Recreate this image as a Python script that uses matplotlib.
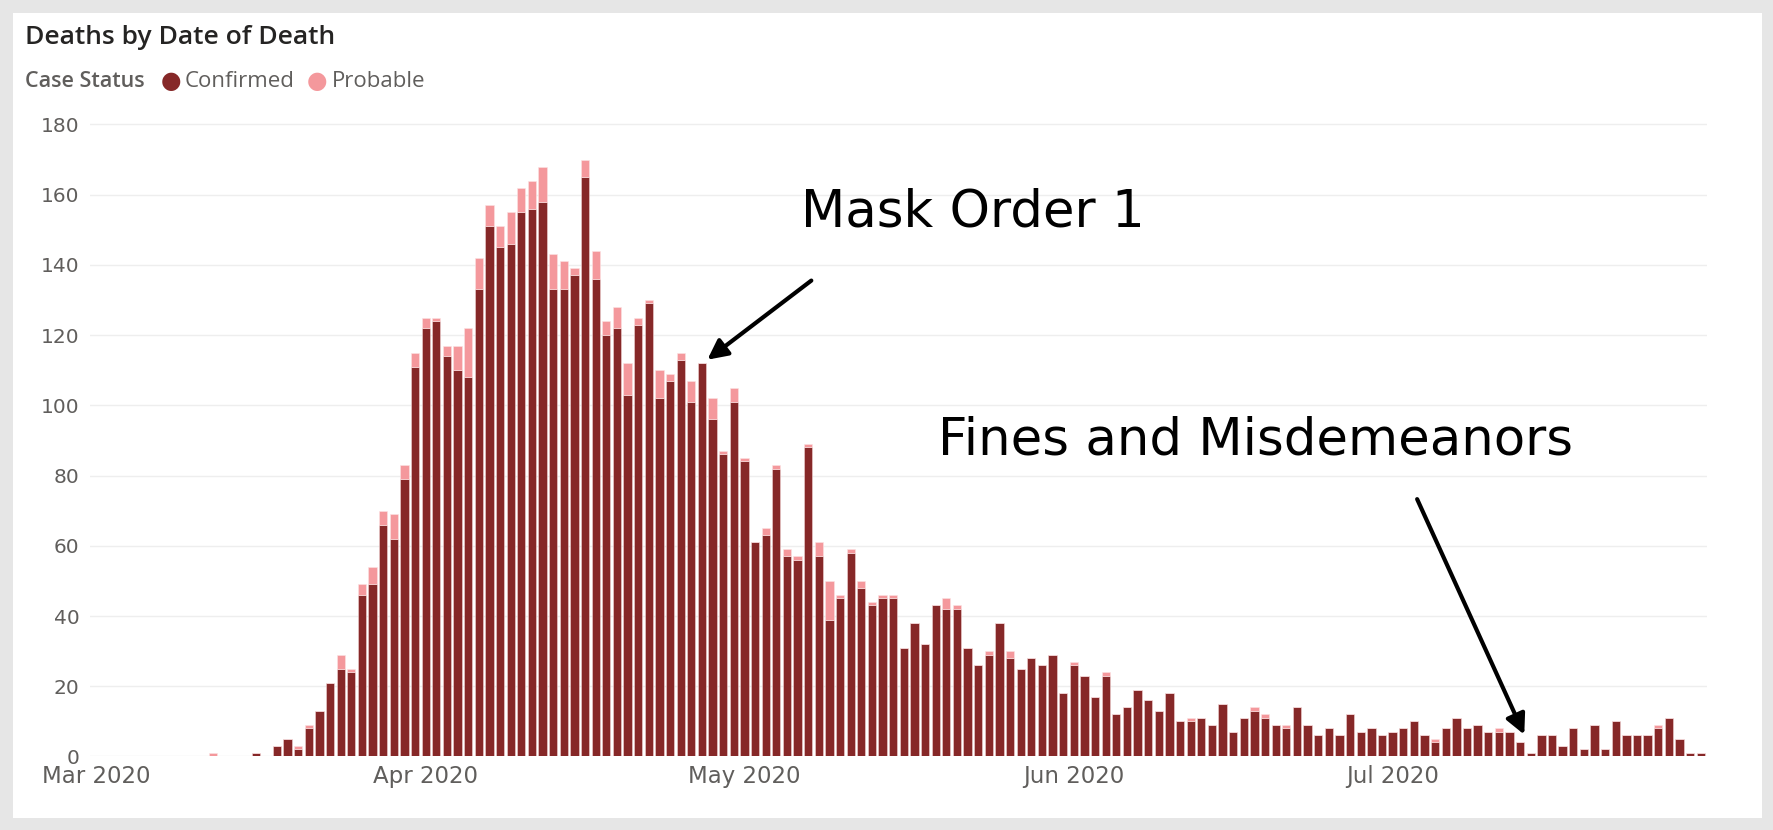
import matplotlib
matplotlib.use("Agg")
import matplotlib.pyplot as plt
import numpy as np
import datetime as dt
from matplotlib.patches import Rectangle

start = dt.date(2020, 3, 1)
confirmed = [0]*11 + [0, 0, 0, 0, 1, 0, 3, 5, 2, 8, 13, 21, 25, 24, 46, 49, 66, 62, 79, 111,  # Mar
    122, 124, 114, 110, 108, 133, 151, 145, 146, 155, 156, 158, 133, 133, 137, 165, 136, 120, 122, 103,
    123, 129, 102, 107, 113, 101, 112, 96, 86, 101,  # Apr
    84, 61, 63, 82, 57, 56, 88, 57, 39, 45, 58, 48, 43, 45, 45, 31, 38, 32, 43, 42, 42, 31, 26, 29,
    38, 28, 25, 28, 26, 29, 18,  # May
    26, 23, 17, 23, 12, 14, 19, 16, 13, 18, 10, 10, 11, 9, 15, 7, 11, 13, 11, 9, 8, 14, 9, 6, 8, 6,
    12, 7, 8, 6,  # Jun
    7, 8, 10, 6, 4, 8, 11, 8, 9, 7, 7, 7, 4, 1, 6, 6, 3, 8, 2, 9, 2, 10, 6, 6, 6, 8, 11, 5, 1, 1]  # Jul
probable = [0]*11 + [1, 0, 0, 0, 0, 0, 0, 0, 1, 1, 0, 0, 4, 1, 3, 5, 4, 7, 4, 4,
    3, 1, 3, 7, 14, 9, 6, 6, 9, 7, 8, 10, 10, 8, 2, 5, 8, 4, 6, 9,
    2, 1, 8, 2, 2, 6, 0, 6, 1, 4,
    1, 0, 2, 1, 2, 1, 1, 4, 11, 1, 1, 2, 1, 1, 1, 0, 0, 0, 0, 3, 1, 0, 0, 1,
    0, 2, 0, 0, 0, 0, 0,
    1, 0, 0, 1, 0, 0, 0, 0, 0, 0, 0, 1, 0, 0, 0, 0, 0, 1, 1, 0, 1, 0, 0, 0, 0, 0,
    0, 0, 0, 0,
    0, 0, 0, 0, 1, 0, 0, 0, 0, 0, 1, 0, 0, 0, 0, 0, 0, 0, 0, 0, 0, 0, 0, 0, 0, 1, 0, 0, 0, 0]
month_ticks = ["Mar 2020", "Apr 2020", "May 2020", "Jun 2020", "Jul 2020"]
month_dates = [dt.date(2020, m, 1) for m in (3, 4, 5, 6, 7)]
yticks = [0, 20, 40, 60, 80, 100, 120, 140, 160, 180]

n = min(len(confirmed), len(probable))
x = np.arange(n)
conf = np.array(confirmed[:n]); prob = np.array(probable[:n])

C_CONF = "#862828"; C_PROB = "#f4989c"; GRAY = "#605e5c"
fig = plt.figure(figsize=(17.74, 8.30), dpi=100)
fig.patch.set_facecolor("white")
fig.patches.append(Rectangle((0, 0), 1, 1, transform=fig.transFigure, fill=False,
                             edgecolor="#e6e6e6", linewidth=18, zorder=0))
ax = fig.add_axes([0.051, 0.0886, 0.911, 0.770])
ax.bar(x, conf, width=0.78, color=C_CONF, edgecolor="#f2d5d5", linewidth=0.4, zorder=3)
ax.bar(x, prob, bottom=conf, width=0.78, color=C_PROB, edgecolor="#fbe3e4", linewidth=0.4, zorder=3)
ax.set_xlim(-0.55, n - 0.45)
ax.set_ylim(0, 182)
ax.set_yticks(yticks)
ax.set_xticks([(d - start).days for d in month_dates])
ax.set_xticklabels(month_ticks)
ax.tick_params(axis="y", length=0, labelsize=14.5, colors=GRAY, pad=8)
ax.tick_params(axis="x", length=0, labelsize=16.5, colors=GRAY, pad=6)
ax.grid(axis="y", color="#eeeeee", linewidth=1, zorder=0)
for s in ax.spines.values():
    s.set_visible(False)

fig.text(0.014, 0.955, "Deaths by Date of Death", fontsize=19, color="#252423", family="Open Sans",
         fontweight="semibold", va="center")
fig.text(0.014, 0.902, "Case Status", fontsize=15.5, color=GRAY, family="Open Sans", va="center", fontweight="semibold")
fig.text(0.0962, 0.902, "●", fontsize=17, color=C_CONF, va="center", ha="center")
fig.text(0.104, 0.902, "Confirmed", fontsize=16, color=GRAY, family="Open Sans", va="center")
fig.text(0.179, 0.902, "●", fontsize=17, color=C_PROB, va="center", ha="center")
fig.text(0.187, 0.902, "Probable", fontsize=16, color=GRAY, family="Open Sans", va="center")

d1 = (dt.date(2020, 4, 27) - start).days
ax.annotate("", xy=(d1 + 0.3, conf[d1] + prob[d1] + 0.5), xytext=(d1 + 10.5, 136),
            arrowprops=dict(arrowstyle="-|>,head_length=1.2,head_width=0.6", color="black", lw=3), zorder=5)
ax.text(d1 + 9.3, 155, "Mask Order 1", fontsize=37, color="black", va="center", family="DejaVu Sans")
d2 = (dt.date(2020, 7, 14) - start).days
ax.annotate("", xy=(d2 - 0.5, conf[d2 - 1] + 1.5), xytext=(d2 - 10.8, 74),
            arrowprops=dict(arrowstyle="-|>,head_length=1.2,head_width=0.6", color="black", lw=3), zorder=5)
ax.text(d2 - 55.8, 90, "Fines and Misdemeanors", fontsize=37, color="black", va="center", family="DejaVu Sans")

fig.savefig("out.png", dpi=100, facecolor="white")
